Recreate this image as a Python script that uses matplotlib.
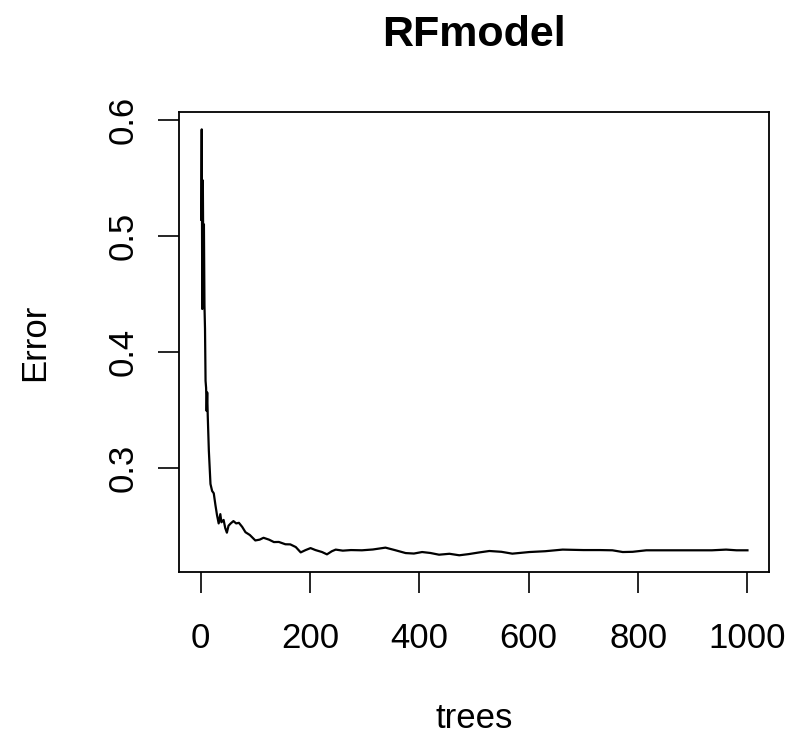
import matplotlib
matplotlib.use("Agg")
import matplotlib.pyplot as plt
import numpy as np

trees = [1, 2, 3, 4, 5, 6, 7, 8, 9, 10, 11, 12, 13, 15, 18, 21, 24, 27, 30, 33,
         36, 38, 42, 45, 48, 51, 55, 60, 65, 70, 76, 82, 90, 100, 108, 115, 125,
         134, 143, 155, 164, 174, 183, 192, 201, 210, 222, 231, 240, 247, 260,
         275, 295, 315, 338, 355, 375, 390, 405, 420, 436, 455, 473, 490, 510,
         528, 550, 570, 601, 630, 662, 700, 730, 753, 772, 790, 815, 850, 880,
         906, 935, 961, 980, 1000]
error = [0.514, 0.592, 0.437, 0.548, 0.470, 0.510, 0.440, 0.420, 0.375, 0.369,
         0.349, 0.365, 0.345, 0.315, 0.286, 0.280, 0.278, 0.268, 0.259, 0.252,
         0.260, 0.253, 0.255, 0.248, 0.244, 0.250, 0.252, 0.254, 0.252, 0.2525,
         0.249, 0.2444, 0.242, 0.2373, 0.238, 0.2396, 0.238, 0.2359, 0.236,
         0.234, 0.2339, 0.2316, 0.227, 0.229, 0.2307, 0.229, 0.2273, 0.2253,
         0.228, 0.2294, 0.2285, 0.229, 0.2288, 0.2295, 0.2311, 0.229, 0.2264,
         0.226, 0.2273, 0.2265, 0.225, 0.2258, 0.2245, 0.2255, 0.227, 0.2282,
         0.2275, 0.2259, 0.2273, 0.228, 0.2294, 0.229, 0.229, 0.2288, 0.2273,
         0.2275, 0.2288, 0.2288, 0.2288, 0.2288, 0.2288, 0.2294, 0.2288, 0.2288]
x_ticks = [0, 200, 400, 600, 800, 1000]
y_ticks = [0.3, 0.4, 0.5, 0.6]
title = "RFmodel"
xlabel = "trees"
ylabel = "Error"

plt.rcParams['font.family'] = ['Liberation Sans', 'DejaVu Sans']

fig = plt.figure(figsize=(7.9, 7.38), dpi=100)
ax_l, ax_r, ax_b, ax_t = 0.227, 0.9738, 0.2245, 0.8478
ax = fig.add_axes([ax_l, ax_b, ax_r - ax_l, ax_t - ax_b])
ax.plot(trees, error, color='black', lw=1.6)

xr = max(trees) - min(trees)
ax.set_xlim(min(trees) - 0.04 * xr, max(trees) + 0.04 * xr)
yr = max(error) - min(error)
ax.set_ylim(min(error) - 0.04 * yr, max(error) + 0.04 * yr)

ax.set_xticks(x_ticks)
ax.set_xticklabels([str(t) for t in x_ticks])
ax.set_yticks(y_ticks)
ax.set_yticklabels([f"{t:.1f}" for t in y_ticks], rotation=90, va='center')
ax.tick_params(axis='both', direction='out', length=15, width=1.2,
               labelsize=25, color='black')
ax.tick_params(axis='x', pad=21)
ax.tick_params(axis='y', pad=13.5)
for s in ax.spines.values():
    s.set_linewidth(1.3)

fig.text((ax_l + ax_r) / 2, 1 - 35 / 738, title,
         ha='center', va='center', fontsize=31, fontweight='bold')
fig.text((ax_l + ax_r) / 2, 1 - 718 / 738, xlabel, ha='center', va='center',
         fontsize=25)
fig.text(35 / 790, (ax_b + ax_t) / 2, ylabel, ha='center', va='center',
         fontsize=25, rotation=90)

fig.savefig("out.png", dpi=100)
